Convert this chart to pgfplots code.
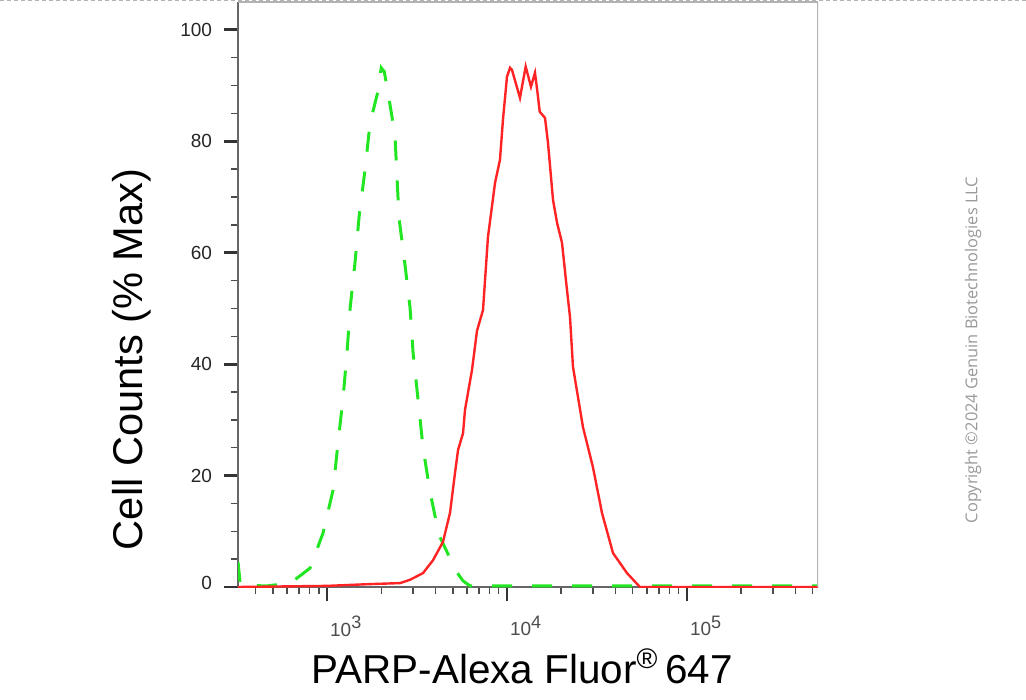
\documentclass[border=0pt]{standalone}
\usepackage{fontspec}
\setmainfont{Liberation Sans}
\newfontfamily\cpfont{Open Sans}
\usepackage{pgfplots}
\pgfplotsset{compat=1.18}
\definecolor{flowgreen}{RGB}{35,230,35}
\definecolor{flowred}{RGB}{255,35,35}
\newcommand{\dec}[1]{10\raisebox{0.75ex}{\fontsize{9}{9}\selectfont #1}}
\begin{document}
\begin{tikzpicture}
\useasboundingbox (-119pt,-56.5pt) rectangle (394pt,293.5pt);
\draw[black!30, line width=0.5pt, dash pattern=on 2pt off 1.5pt] (-119pt,293pt) -- (394pt,293pt);
\begin{axis}[
    at={(0pt,0pt)}, anchor=south west,
    scale only axis,
    width=290pt, height=292.5pt,
    xmode=log,
    xmin=320, xmax=535000,
    ymin=0, ymax=105,
    axis lines=left,
    axis line style={-, draw=black!60, line width=0.8pt},
    tick align=outside,
    xtick={1000,10000,100000},
    xticklabels={\dec{3},\dec{4},\dec{5}},
    minor xtick={400,500,600,700,800,900,2000,3000,4000,5000,6000,7000,8000,9000,
                 20000,30000,40000,50000,60000,70000,80000,90000,200000,300000,400000,500000},
    ytick={0,20,40,60,80,100},
    yticklabels={\raisebox{4.5pt}{0},20,40,60,80,100},
    minor y tick num=3,
    major tick length=7pt,
    minor tick length=3.5pt,
    every major tick/.style={line width=1.4pt, draw=black!80},
    every minor tick/.style={line width=0.7pt, draw=black!70},
    /pgf/number format/assume math mode=true,
    yticklabel style={font=\fontsize{9.5}{10}\selectfont, text=black!85, xshift=-2.5pt},
    xticklabel style={font=\fontsize{9.5}{10}\selectfont, text=black!70, anchor=north west,
                      xshift=-2pt, yshift=-4pt},
    xlabel={PARP-Alexa Fluor\textsuperscript{\textregistered}\,647},
    xlabel style={at={(axis description cs:0.49,-0.135)}, anchor=center, font=\fontsize{20.2}{22}\selectfont},
    ylabel={Cell Counts (\% Max)},
    ylabel style={at={(axis description cs:-0.184,0.389)}, anchor=center, font=\fontsize{20.8}{22}\selectfont},
]
% isotype control (green dashed)
\addplot[flowgreen, line width=1.5pt, dash pattern=on 10pt off 10pt] coordinates {
(320,4.5) (330,0.3) (464,0.2) (623,0.7) (681,1.6) (805,3.4) (950,9.7) (1080,17.4)
(1151,25.9) (1227,33.9) (1292,42.2) (1342,49.9) (1431,58.3) (1506,66.4) (1626,74.9)
(1734,83.3) (1920,89) (2000,93.2) (2080,92.5) (2181,88.7) (2296,84.4) (2388,80.6)
(2512,66.2) (2712,57.8) (2893,50.1) (3007,42.0) (3205,33.6) (3415,25.0) (3734,17.1)
(4190,9.3) (4642,6.3) (5142,3.1) (5697,1.1) (6227,0.2) (535000,0.2)
};
% PARP stained (red)
\addplot[flowred, line width=1.2pt] coordinates {
(320,0) (1000,0.2) (1668,0.5) (2545,0.7) (2893,1.3) (3415,2.5) (3880,4.8) (4408,8.1)
(4822,13.3) (5142,20.5) (5345,24.6) (5697,27.6) (5843,31.8) (6393,39) (6813,46)
(7356,49.7) (7838,62.8) (8577,72.5) (9141,76.7) (9503,84) (10000,91.6) (10397,93.2)
(10662,92.8) (11805,87.8) (12700,93.4) (13591,89.8) (14307,92.3) (14867,88)
(15200,85.3) (16264,84.2) (16899,79.7) (18016,69.5) (18964,65.4) (20209,61.8)
(21544,53.3) (22387,48.5) (23263,39.5) (26434,28.7) (30036,21.5) (33717,13.3)
(38814,6.1) (46416,2.5) (54797,0) (535000,0)
};
\draw[black!30, line width=1pt] (rel axis cs:0,1) -- (rel axis cs:1,1) -- (rel axis cs:1,0);
\end{axis}
\node[rotate=90, text=black!40, font=\cpfont\fontsize{8.2}{9}\selectfont] at (367.5pt,118.5pt)
  {Copyright ©2024 Genuin Biotechnologies LLC};
\end{tikzpicture}
\end{document}
